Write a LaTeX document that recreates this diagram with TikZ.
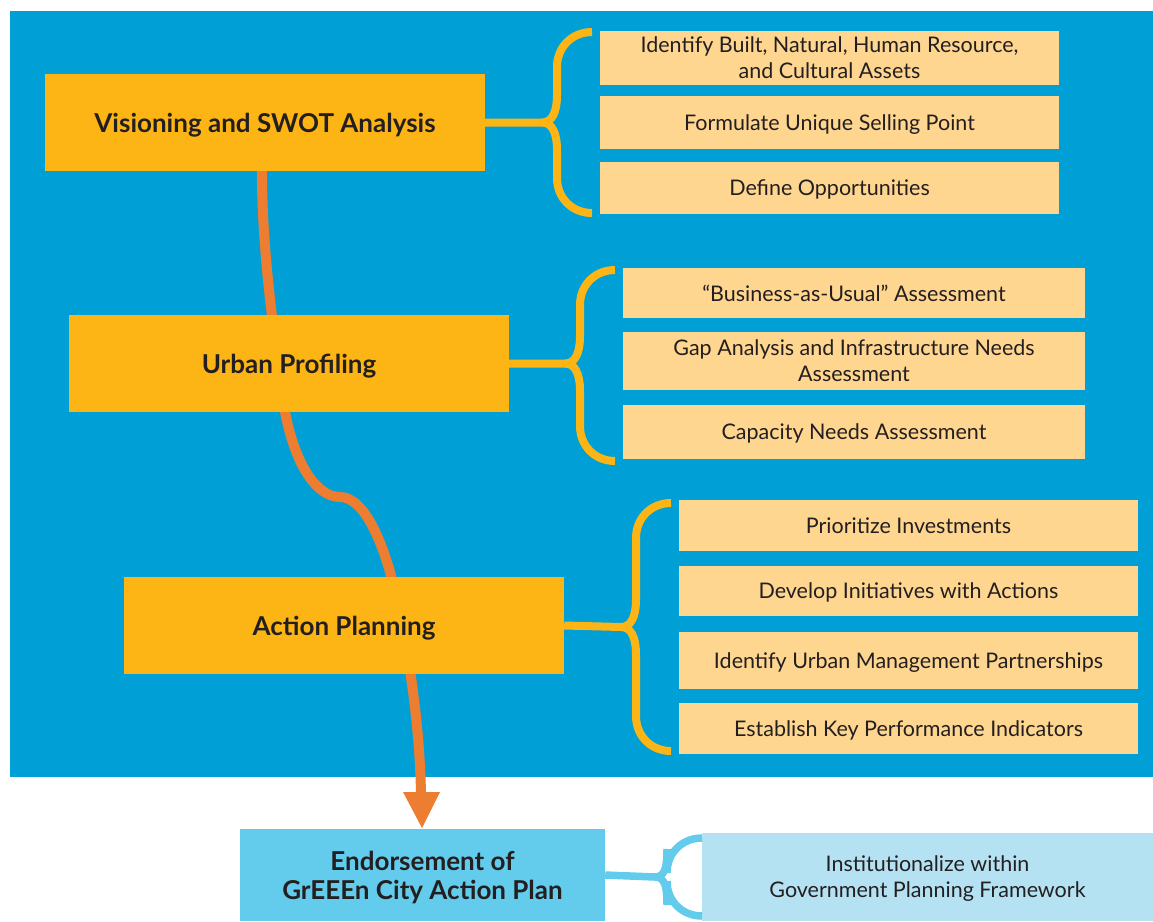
\documentclass[tikz,border=0pt]{standalone}
\usepackage{fontspec}
\setmainfont{Lato}
\definecolor{bgblue}{HTML}{009FD6}
\definecolor{mainyel}{HTML}{FDB515}
\definecolor{subyel}{HTML}{FED68F}
\definecolor{arrorange}{HTML}{ED7D31}
\definecolor{endblue}{HTML}{63CBEC}
\definecolor{lightblue}{HTML}{B5E2F3}
\definecolor{txt}{HTML}{231F20}
\newcommand\mybrace[8]{%
  \draw[#1] (#2.east) -- (#4,#3)
    .. controls (#4+10,#3) and (#5,#3-10) .. (#5,#3-28)
    -- (#5,#7+35) .. controls (#5,#7+15) and (#6-20,#7) .. (#6,#7);
  \draw[#1] (#4,#3)
    .. controls (#4+10,#3) and (#5,#3+10) .. (#5,#3+28)
    -- (#5,#8-35) .. controls (#5,#8-15) and (#6-20,#8) .. (#6,#8);
}
\begin{document}
\begin{tikzpicture}[x=1pt,y=-1pt,
  mainbox/.style={fill=mainyel, inner sep=0pt, align=center, text=txt, text depth=0pt,
    font=\fontsize{26}{30}\selectfont\bfseries},
  subbox/.style={fill=subyel, inner sep=0pt, align=center, text=txt, text depth=0pt,
    font=\fontsize{21.5}{26}\selectfont},
  endbox/.style={fill=endblue, inner sep=0pt, align=center, text=txt, text depth=0pt,
    font=\fontsize{26}{29}\selectfont\bfseries},
  lightbox/.style={fill=lightblue, inner sep=0pt, align=center, text=txt, text depth=0pt,
    font=\fontsize{21.5}{26}\selectfont},
  bracey/.style={draw=mainyel, line width=8pt},
  braceb/.style={draw=endblue, line width=7.5pt},
  flow/.style={draw=arrorange, line width=10pt}
]
\useasboundingbox (0,0) rectangle (1153,921);
\fill[bgblue] (10,11) rectangle (1153,777);

% orange flow line (behind boxes)
\coordinate (fstart) at (262,160);
\coordinate (fend) at (421,795);
\draw[flow] (fstart) .. controls (261,240) and (272,320) .. (283,400)
  .. controls (292,460) and (315,497) .. (340,497)
  .. controls (365,497) and (385,545) .. (397,600)
  .. controls (410,660) and (420,730) .. (fend);
\fill[arrorange] (403,792) -- (440,792) -- (422,828) -- cycle;

% main boxes
\node[mainbox, minimum width=440pt, minimum height=97pt] (v) at (265,122.5) {Visioning and SWOT Analysis};
\node[mainbox, minimum width=440pt, minimum height=97pt] (u) at (289,363.5) {Urban Profiling};
\node[mainbox, minimum width=440pt, minimum height=97pt] (a) at (344,625.5) {Action Planning};
\node[endbox, minimum width=365pt, minimum height=92pt] (e) at (422.5,875) {Endorsement of\\GrEEEn City Action Plan};

% sub boxes group 1
\node[subbox, minimum width=459pt, minimum height=54pt] (v1) at (829.5,58) {Identify Built, Natural, Human Resource,\\and Cultural Assets};
\node[subbox, minimum width=459pt, minimum height=53pt] (v2) at (829.5,122.5) {Formulate Unique Selling Point};
\node[subbox, minimum width=459pt, minimum height=52pt] (v3) at (829.5,188) {Define Opportunities};
% group 2
\node[subbox, minimum width=462pt, minimum height=50pt] (u1) at (854,293) {“Business-as-Usual” Assessment};
\node[subbox, minimum width=462pt, minimum height=58pt] (u2) at (854,361) {Gap Analysis and Infrastructure Needs\\Assessment};
\node[subbox, minimum width=462pt, minimum height=54pt] (u3) at (854,432) {Capacity Needs Assessment};
% group 3
\node[subbox, minimum width=459pt, minimum height=51pt] (a1) at (908.5,525.5) {Prioritize Investments};
\node[subbox, minimum width=459pt, minimum height=50pt] (a2) at (908.5,591) {Develop Initiatives with Actions};
\node[subbox, minimum width=459pt, minimum height=57pt] (a3) at (908.5,660.5) {Identify Urban Management Partnerships};
\node[subbox, minimum width=459pt, minimum height=51pt] (a4) at (908.5,728.5) {Establish Key Performance Indicators};
% group 4
\node[lightbox, minimum width=451pt, minimum height=88pt] (e1) at (927.5,877) {Institutionalize within\\Government Planning Framework};

% braces
\mybrace{bracey}{v}{122.5}{542}{557}{592}{32}{213}
\mybrace{bracey}{u}{363.5}{565}{580}{615}{270}{461}
\mybrace{bracey}{a}{627}{621}{636}{671}{503}{751}
\mybrace{braceb}{e}{877}{655}{667}{702}{838}{916}
\end{tikzpicture}
\end{document}
